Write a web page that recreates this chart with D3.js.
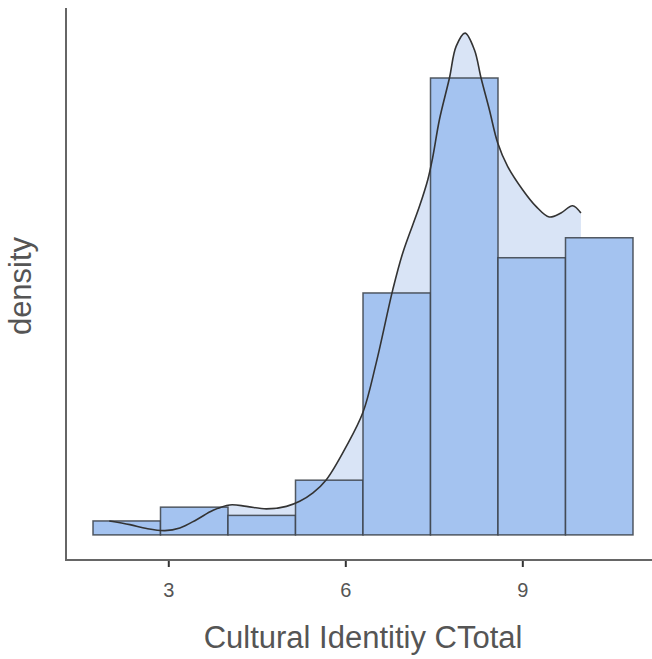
<!DOCTYPE html>
<html>
<head>
<meta charset="utf-8">
<script src="https://cdn.jsdelivr.net/npm/d3@7"></script>
<style>
  html, body { margin: 0; padding: 0; background: #ffffff; }
  svg { display: block; }
</style>
</head>
<body>
<script>
// ---- data ----
const binEdges = [1.724, 2.868, 4.012, 5.156, 6.300, 7.444, 8.588, 9.732, 10.876];
const binDensity = [0.0088, 0.0175, 0.0123, 0.0345, 0.1525, 0.2880, 0.1747, 0.1873];
const curveX = [2.0, 2.35, 2.633, 2.942, 3.196, 3.479, 3.76, 4.042, 4.325, 4.663, 5.002, 5.227, 5.452, 5.679, 6.017, 6.298, 6.525, 6.805, 6.975, 7.257, 7.398, 7.48, 7.595, 7.765, 7.878, 8.03, 8.188, 8.301, 8.442, 8.582, 8.751, 9.005, 9.232, 9.457, 9.655, 9.851, 9.993];
const curveY = [0.0088, 0.0065, 0.0040, 0.0027, 0.0044, 0.0096, 0.0155, 0.0189, 0.0180, 0.0164, 0.0180, 0.0212, 0.0265, 0.0348, 0.0558, 0.0771, 0.1086, 0.1546, 0.1779, 0.2071, 0.2239, 0.2377, 0.2617, 0.2880, 0.3079, 0.3163, 0.3058, 0.2880, 0.2680, 0.2472, 0.2323, 0.2176, 0.2071, 0.2004, 0.2029, 0.2075, 0.2029];
const xTicks = [3, 6, 9];
const xTitle = "Cultural Identitiy CTotal";
const yTitle = "density";

// ---- layout ----
const W = 652, H = 659;
const panel = { left: 66, right: 660, top: 8, bottom: 560 };
const FONT = "'Liberation Sans', Arial, sans-serif";

const svg = d3.select("body").append("svg").attr("width", W).attr("height", H);

const xMin = binEdges[0], xMax = binEdges[binEdges.length - 1];
const xPad = (xMax - xMin) * 0.05;
const x = d3.scaleLinear().domain([xMin - xPad, xMax + xPad]).range([panel.left, panel.right]);
const yTop = d3.max(curveY);
const yPad = yTop * 0.05;
const y = d3.scaleLinear().domain([-yPad, yTop + yPad]).range([panel.bottom, panel.top]);

const pts = curveX.map((v, i) => [v, curveY[i]]);

// density area
svg.append("path")
  .datum(pts)
  .attr("d", d3.area().x(d => x(d[0])).y0(y(0)).y1(d => y(d[1])).curve(d3.curveCatmullRom))
  .attr("fill", "#d9e4f6");

// bars
const bins = binDensity.map((d, i) => ({ x0: binEdges[i], x1: binEdges[i + 1], d }));
svg.append("g").selectAll("rect").data(bins).join("rect")
  .attr("x", b => x(b.x0))
  .attr("y", b => y(b.d))
  .attr("width", b => x(b.x1) - x(b.x0))
  .attr("height", b => y(0) - y(b.d))
  .attr("fill", "#a4c3f0")
  .attr("stroke", "#3a3f47")
  .attr("stroke-opacity", 0.85)
  .attr("stroke-width", 1.5);

// density line
svg.append("path")
  .datum(pts)
  .attr("d", d3.line().x(d => x(d[0])).y(d => y(d[1])).curve(d3.curveCatmullRom))
  .attr("fill", "none")
  .attr("stroke", "#333333")
  .attr("stroke-width", 1.6);

// x axis
const xAxis = d3.axisBottom(x).tickValues(xTicks).tickSize(7).tickPadding(16).tickFormat(d3.format("d"));
const gx = svg.append("g").attr("transform", `translate(0,${panel.bottom})`).call(xAxis);
gx.select(".domain").remove();
gx.selectAll(".tick line").attr("stroke", "#333").attr("stroke-width", 2);
gx.selectAll(".tick text").attr("fill", "#555").style("font-family", FONT).style("font-size", "20px");

// axis lines
svg.append("line").attr("x1", panel.left).attr("x2", panel.left).attr("y1", panel.top).attr("y2", panel.bottom)
  .attr("stroke", "#666").attr("stroke-width", 2);
svg.append("line").attr("x1", panel.left - 1).attr("x2", W).attr("y1", panel.bottom).attr("y2", panel.bottom)
  .attr("stroke", "#666").attr("stroke-width", 2);

// titles
svg.append("text")
  .attr("x", (panel.left + panel.right) / 2)
  .attr("y", 648)
  .attr("text-anchor", "middle")
  .attr("fill", "#555")
  .style("font-family", FONT)
  .style("font-size", "31px")
  .text(xTitle);

svg.append("text")
  .attr("transform", `translate(31,${(panel.top + panel.bottom) / 2 + 2}) rotate(-90)`)
  .attr("text-anchor", "middle")
  .attr("fill", "#555")
  .style("font-family", FONT)
  .style("font-size", "31px")
  .text(yTitle);
</script>
</body>
</html>
